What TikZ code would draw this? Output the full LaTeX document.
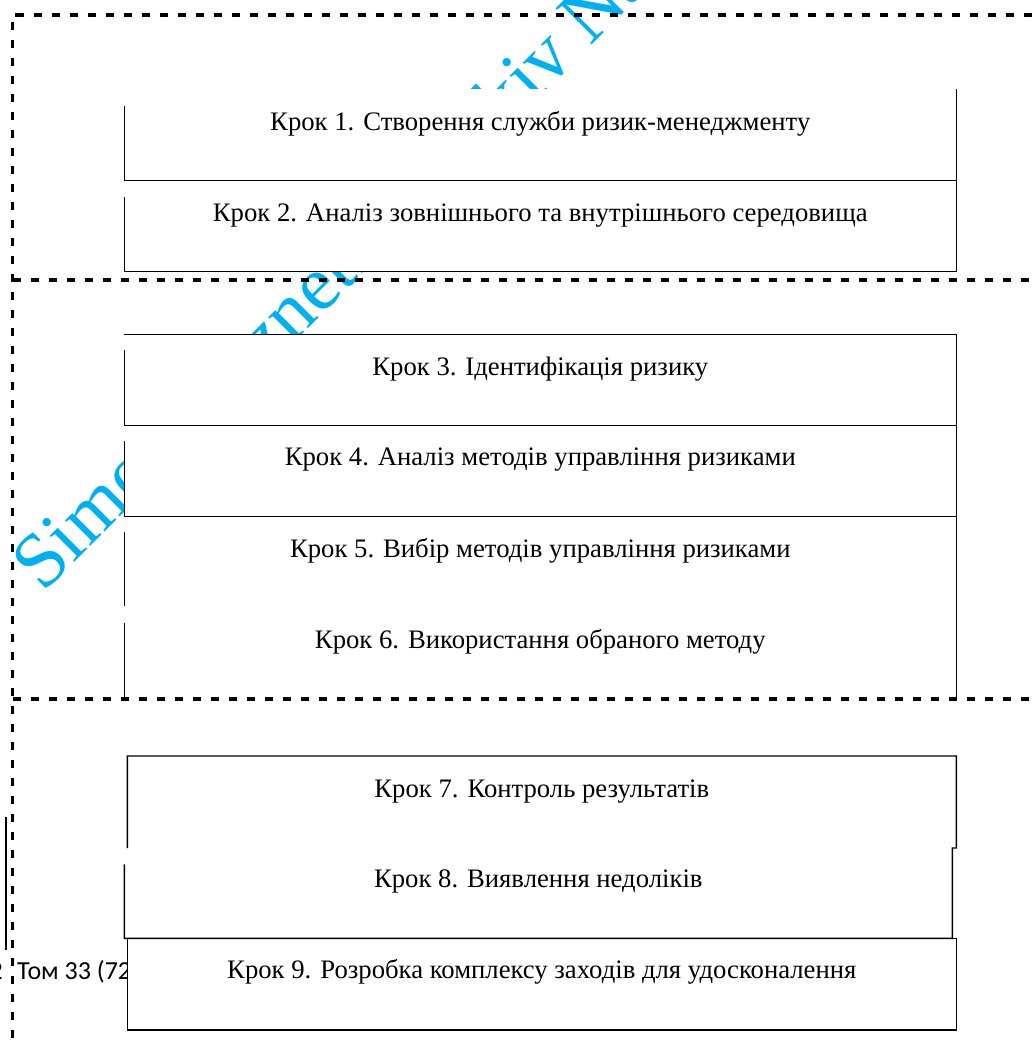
\documentclass[tikz,border=0pt]{standalone}
\usepackage{fontspec}
\setmainfont{Liberation Serif}
\newfontfamily\footfont{Carlito}
\definecolor{wmcyan}{RGB}{0,176,240}

\begin{document}
\begin{tikzpicture}[x=1pt,y=-1pt]
\tikzstyle{stepbox}=[fill=white,inner sep=0pt,outer sep=0pt,minimum height=91pt,minimum width=832pt];
\tikzstyle{steptext}=[inner sep=0pt,anchor=base,font=\fontsize{26.7}{31}\selectfont];
\tikzstyle{boxline}=[line width=1.4pt];
\tikzstyle{bandline}=[line width=3.4pt,dash pattern=on 8.5pt off 9.5pt];
\useasboundingbox (0,0) rectangle (1035,1047);

% watermark
\node[rotate=45,anchor=base west,inner sep=0pt,text=wmcyan,font=\fontsize{78}{90}\selectfont] (wm) at (43,594) {Simon Kuznets Kharkiv National University};

% page footer
\draw[line width=2pt] (6,817) -- (6,950);
\node[anchor=base east,inner sep=0pt,font=\footfont\fontsize{26}{30}\selectfont] (pg) at (3,979) {2};
\node[anchor=base west,inner sep=0pt,font=\footfont\fontsize{26}{30}\selectfont] (vol) at (17,979) {Том 33 (72)};

% boxes
\node[stepbox] (k1) at (540.3,134.8) {};
\node[stepbox] (k2) at (540.3,225.8) {};
\node[stepbox] (k3) at (540.3,379.7) {};
\node[stepbox] (k4) at (540.3,470.7) {};
\node[stepbox] (k5) at (540.3,561.5) {};
\node[stepbox] (k6) at (540.3,652.5) {};
\node[stepbox,minimum width=829pt,minimum height=92pt] (k7) at (541.8,802) {};
\node[stepbox,minimum width=828pt,minimum height=90.3pt] (k8) at (538.3,893.2) {};
\node[stepbox,minimum width=829pt,minimum height=91.7pt] (k9) at (541.8,984.2) {};

\draw[boxline] (k1.north east) -- (k1.south east) -- (k1.south west) -- ++(0,-74);
\draw[boxline] (k2.north east) -- (k2.south east) -- (k2.south west) -- ++(0,-74);
\draw[boxline] (k3.north west) -- (k3.north east) -- (k3.south east) -- (k3.south west) -- ++(0,-75);
\draw[boxline] (k4.north east) -- (k4.south east) -- (k4.south west) -- ++(0,-75);
\draw[boxline] (k5.north east) -- (k5.south east);
\draw[boxline] ([yshift=1pt]k5.south west) -- ++(0,-74);
\draw[boxline] (k6.north east) -- (k6.south east);
\draw[boxline] (k6.south west) -- ++(0,-75);
\draw[boxline] (k7.south west) -- (k7.north west) -- (k7.north east) -- (k7.south east) -- (k8.north east) -- (k8.south east) -- (k8.south west) -- ++(0,-74);
\draw[boxline] (k9.north west) rectangle (k9.south east);

\node[steptext] (t1) at ([yshift=-41pt]k1.north) {Крок 1. Створення служби ризик-менеджменту};
\node[steptext] (t2) at ([yshift=-41pt]k2.north) {Крок 2. Аналіз зовнішнього та внутрішнього середовища};
\node[steptext] (t3) at ([yshift=-41pt]k3.north) {Крок 3. Ідентифікація ризику};
\node[steptext] (t4) at ([yshift=-40pt]k4.north) {Крок 4. Аналіз методів управління ризиками};
\node[steptext] (t5) at ([yshift=-41pt]k5.north) {Крок 5. Вибір методів управління ризиками};
\node[steptext] (t6) at ([yshift=-41pt]k6.north) {Крок 6. Використання обраного методу};
\node[steptext] (t7) at ([yshift=-41pt]k7.north) {Крок 7. Контроль результатів};
\node[steptext] (t8) at ([yshift=-39pt]k8.north) {Крок 8. Виявлення недоліків};
\node[steptext] (t9) at ([yshift=-40pt]k9.north) {Крок 9. Розробка комплексу заходів для удосконалення};

% dashed bands
\coordinate (c0) at (12.5,15);
\coordinate (c1) at (12.5,280);
\coordinate (c2) at (12.5,699);
\coordinate (cb) at (12.5,1038);
\draw[bandline] (cb) -- (c0) -- ++(1030,0);
\draw[bandline] (c1) -- ++(1030,0);
\draw[bandline] (c2) -- ++(1030,0);
\end{tikzpicture}
\end{document}
